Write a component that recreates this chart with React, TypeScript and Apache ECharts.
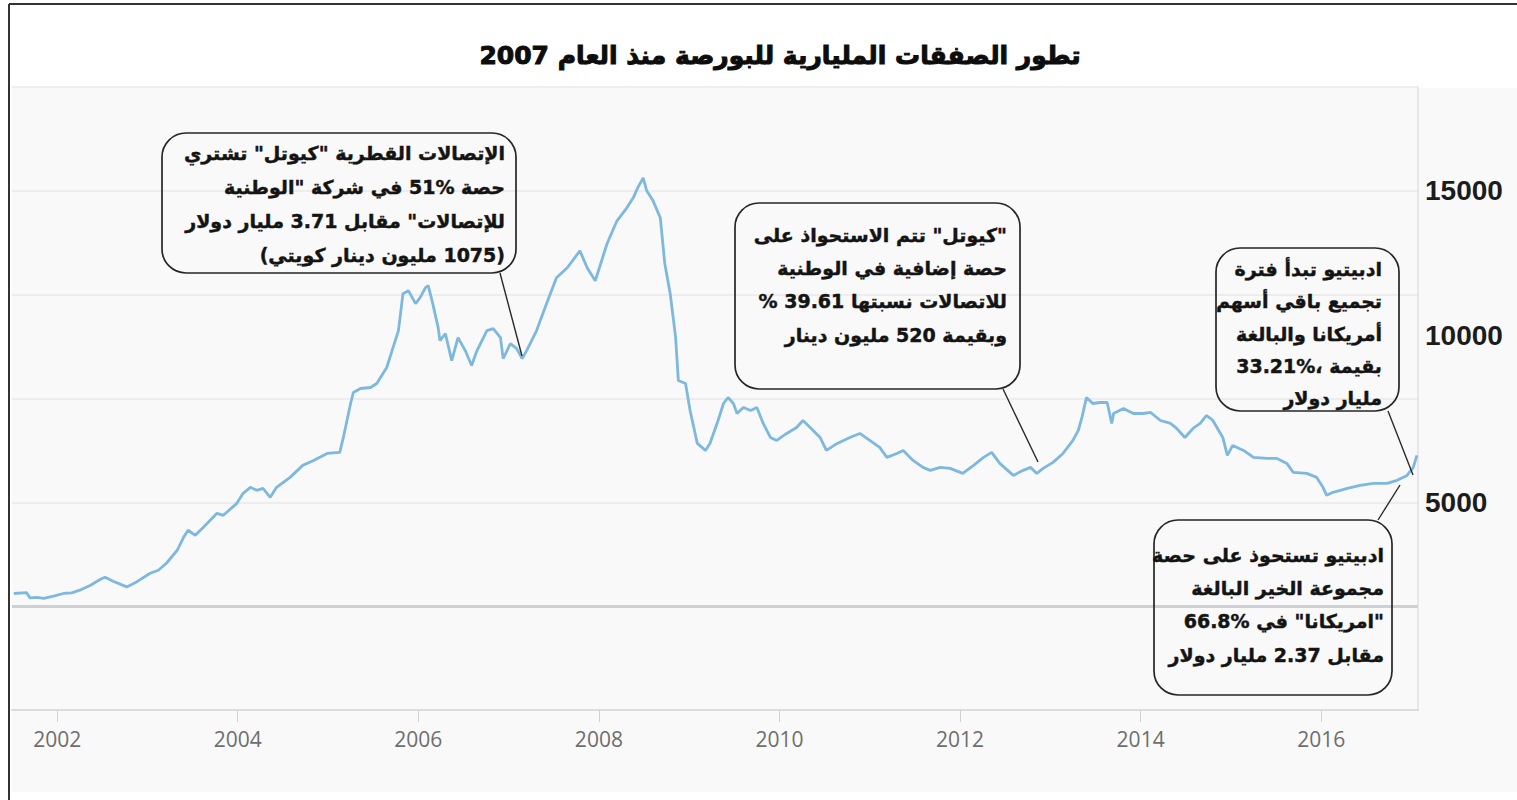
import React, { useEffect, useRef } from "react";
import * as echarts from "echarts";

// Kuwait bourse index (decimal year, index value)
const years: number[] = [
  2001.52, 2001.66, 2001.7, 2001.78, 2001.85, 2001.96, 2002.07, 2002.16, 2002.25, 2002.37,
  2002.48, 2002.53, 2002.62, 2002.77, 2002.88, 2003.03, 2003.12, 2003.21, 2003.33, 2003.4,
  2003.45, 2003.53, 2003.62, 2003.77, 2003.84, 2003.99, 2004.06, 2004.14, 2004.21, 2004.28,
  2004.36, 2004.43, 2004.58, 2004.72, 2004.84, 2004.99, 2005.13, 2005.17, 2005.25, 2005.28,
  2005.36, 2005.47, 2005.54, 2005.65, 2005.72, 2005.78, 2005.83, 2005.89, 2005.97, 2006.02,
  2006.08, 2006.11, 2006.16, 2006.22, 2006.24, 2006.3, 2006.37, 2006.44, 2006.52, 2006.59,
  2006.65, 2006.76, 2006.83, 2006.91, 2006.94, 2007.02, 2007.09, 2007.15, 2007.2, 2007.31,
  2007.42, 2007.53, 2007.65, 2007.79, 2007.87, 2007.96, 2008.09, 2008.2, 2008.31, 2008.38,
  2008.43, 2008.49, 2008.53, 2008.6, 2008.68, 2008.73, 2008.79, 2008.85, 2008.88, 2008.96,
  2009.01, 2009.09, 2009.18, 2009.23, 2009.32, 2009.38, 2009.43, 2009.49, 2009.53, 2009.6,
  2009.68, 2009.75, 2009.82, 2009.9, 2009.97, 2010.08, 2010.19, 2010.26, 2010.34, 2010.45,
  2010.52, 2010.64, 2010.78, 2010.89, 2011.0, 2011.11, 2011.19, 2011.3, 2011.37, 2011.48,
  2011.59, 2011.67, 2011.78, 2011.89, 2012.03, 2012.15, 2012.26, 2012.35, 2012.44, 2012.59,
  2012.7, 2012.78, 2012.85, 2012.92, 2013.03, 2013.14, 2013.25, 2013.31, 2013.35, 2013.4,
  2013.47, 2013.55, 2013.63, 2013.68, 2013.7, 2013.81, 2013.92, 2014.03, 2014.11, 2014.22,
  2014.33, 2014.4, 2014.49, 2014.58, 2014.66, 2014.73, 2014.8, 2014.91, 2014.96, 2015.02,
  2015.14, 2015.25, 2015.4, 2015.51, 2015.62, 2015.69, 2015.84, 2015.95, 2016.02, 2016.06,
  2016.13, 2016.29, 2016.43, 2016.58, 2016.73, 2016.84, 2016.95, 2017.02, 2017.06,
];
const indexValues: number[] = [
  2074, 2100, 1933, 1946, 1914, 1987, 2074, 2093, 2180, 2340,
  2532, 2596, 2468, 2285, 2446, 2724, 2821, 3045, 3462, 3878,
  4103, 3942, 4199, 4647, 4583, 4968, 5288, 5481, 5385, 5449,
  5160, 5481, 5801, 6186, 6346, 6570, 6602, 7083, 8173, 8525,
  8654, 8686, 8814, 9327, 9968, 10513, 11698, 11795, 11378, 11570,
  11891, 11955, 11378, 10609, 10192, 10416, 9551, 10288, 9872, 9391,
  9872, 10513, 10577, 10288, 9615, 10096, 9936, 9615, 9872, 10513,
  11378, 12211, 12532, 13077, 12532, 12115, 13301, 14038, 14455, 14775,
  15096, 15416, 15000, 14679, 14134, 12660, 11698, 10288, 8910, 8814,
  7949, 6891, 6667, 6891, 7628, 8173, 8365, 8173, 7852, 8045,
  7949, 8045, 7532, 7083, 6987, 7211, 7404, 7628, 7404, 7083,
  6667, 6891, 7083, 7211, 6987, 6763, 6442, 6570, 6667, 6346,
  6122, 6026, 6122, 6090, 5929, 6186, 6442, 6603, 6250, 5865,
  6026, 6122, 5929, 6090, 6282, 6570, 6987, 7308, 7724, 8365,
  8173, 8205, 8205, 7532, 7852, 8013, 7852, 7852, 7885, 7628,
  7532, 7372, 7083, 7372, 7532, 7788, 7628, 7083, 6506, 6827,
  6667, 6442, 6410, 6410, 6250, 5962, 5929, 5801, 5481, 5224,
  5321, 5449, 5545, 5609, 5609, 5705, 5865, 6122, 6506,
];

const xTickYears: number[] = [2002, 2004, 2006, 2008, 2010, 2012, 2014, 2016];
const yTickLabels: number[] = [5000, 10000, 15000];

const titleText = "تطور الصفقات المليارية للبورصة منذ العام 2007";

// percentages are kept left-to-right ("51%") inside the right-to-left lines
const ltr = (s: string) => "\u2066" + s + "\u2069";

const note1: string[] = [
  'الإتصالات القطرية "كيوتل" تشتري',
  "حصة " + ltr("51%") + ' في شركة "الوطنية',
  'للإتصالات" مقابل 3.71 مليار دولار',
  "(1075 مليون دينار كويتي)",
];
const note2: string[] = [
  '"كيوتل" تتم الاستحواذ على',
  "حصة إضافية في الوطنية",
  "للاتصالات نسبتها 39.61 %",
  "وبقيمة 520 مليون دينار",
];
const note3: string[] = [
  "ادبيتيو تبدأ فترة",
  "تجميع باقي أسهم",
  "أمريكانا والبالغة",
  "بقيمة ،" + ltr("33.21%"),
  "مليار دولار",
];
const note4: string[] = [
  "ادبيتيو تستحوذ على حصة",
  "مجموعة الخير البالغة",
  '"امريكانا" في ' + ltr("66.8%"),
  "مقابل 2.37 مليار دولار",
];

const rtl = (s: string) => "\u202B" + s + "\u202C";

const ARABIC_FONT = "'DejaVu Sans', 'Noto Sans', sans-serif";

function box(x: number, y: number, w: number, h: number) {
  return {
    type: "rect",
    silent: true,
    z: 20,
    shape: { x, y, width: w, height: h, r: 24 },
    style: { fill: "rgba(255,255,255,0)", stroke: "#262626", lineWidth: 1.7 },
  };
}

function pointer(x1: number, y1: number, x2: number, y2: number) {
  return {
    type: "line",
    silent: true,
    z: 20,
    shape: { x1, y1, x2, y2 },
    style: { stroke: "#2a2a2a", lineWidth: 1.4 },
  };
}

function noteText(lines: string[], right: number, top: number, lh: number, fs: number) {
  return {
    type: "text",
    silent: true,
    z: 21,
    x: right,
    y: top,
    style: {
      text: lines.map(rtl).join("\n"),
      fill: "#141414",
      stroke: "#141414",
      lineWidth: 0.45,
      fontFamily: ARABIC_FONT,
      fontWeight: "bold",
      fontSize: fs,
      lineHeight: lh,
      align: "right",
      textAlign: "right",
      verticalAlign: "top",
      textVerticalAlign: "top",
    },
  };
}

export default function App() {
  const ref = useRef<HTMLDivElement>(null);

  useEffect(() => {
    if (!ref.current) return;
    const chart = echarts.init(ref.current, null, { renderer: "svg" });
    const data = years.map((yr, i) => [yr, indexValues[i]]);
    const yLabelStyle = {
      fontFamily: "'Liberation Sans', Arial, sans-serif",
      fontWeight: "bold",
      fontSize: 28,
      color: "#1c1c1c",
    };

    const option: any = {
      animation: false,
      backgroundColor: "#ffffff",
      grid: { left: 12, right: 99, top: 87, bottom: 90, containLabel: false },
      xAxis: {
        type: "value",
        min: 2001.5,
        max: 2017.072,
        axisLine: { show: true, onZero: false, lineStyle: { color: "#dcdcdc", width: 2 } },
        axisTick: {
          show: true,
          customValues: xTickYears,
          length: 12,
          lineStyle: { color: "#d2d2d2", width: 1 },
        },
        axisLabel: {
          customValues: xTickYears,
          color: "#6e6e6e",
          fontFamily: "'Open Sans', sans-serif",
          fontSize: 21,
          margin: 18,
          formatter: (v: number) => String(Math.round(v)),
        },
        splitLine: { show: false },
      },
      yAxis: {
        type: "value",
        position: "right",
        min: -5000 / 3,
        max: 55000 / 3,
        interval: 10000 / 3,
        axisLine: { show: true, onZero: false, lineStyle: { color: "#e0e0e0", width: 1.5 } },
        axisTick: { show: false },
        axisLabel: {
          customValues: yTickLabels,
          margin: 7,
          align: "left",
          formatter: (v: number) => (Math.round(v) === 10000 ? "{up|10000}" : "{n|" + Math.round(v) + "}"),
          rich: {
            n: { ...yLabelStyle },
            up: { ...yLabelStyle, padding: [0, 0, 22, 0] },
          },
        },
        splitLine: { show: true, lineStyle: { color: "#e8e8e8", width: 1.5 } },
      },
      series: [
        {
          type: "line",
          data,
          showSymbol: false,
          symbol: "none",
          smooth: false,
          z: 5,
          lineStyle: { color: "#7db8df", width: 2.8 },
          markLine: {
            silent: true,
            symbol: "none",
            label: { show: false },
            lineStyle: { color: "#cdd1d4", width: 3, type: "solid" },
            data: [{ yAxis: 5000 / 3 }],
          },
        },
      ],
      graphic: [
        {
          type: "rect",
          silent: true,
          z: -10,
          shape: { x: 12, y: 88, width: 1505, height: 704 },
          style: { fill: "#f9f9f9" },
        },
        {
          type: "line",
          silent: true,
          z: 30,
          shape: { x1: 9, y1: 4, x2: 1517, y2: 4 },
          style: { stroke: "#333333", lineWidth: 2 },
        },
        {
          type: "line",
          silent: true,
          z: 30,
          shape: { x1: 9, y1: 4, x2: 9, y2: 800 },
          style: { stroke: "#333333", lineWidth: 2 },
        },
        {
          type: "text",
          silent: true,
          z: 30,
          x: 780,
          y: 55,
          style: {
            text: rtl(titleText),
            fill: "#0d0d0d",
            fontFamily: ARABIC_FONT,
            fontWeight: "bold",
            fontSize: 25,
            align: "center",
            textAlign: "center",
            verticalAlign: "middle",
            textVerticalAlign: "middle",
            stroke: "#0d0d0d",
            lineWidth: 1,
          },
        },
        box(162, 133, 354, 140),
        pointer(500, 273, 522, 356),
        noteText(note1, 505, 136, 34, 19),
        box(735, 203, 285, 186),
        pointer(1003, 389, 1038, 462),
        noteText(note2, 1007, 218, 33.3, 19),
        box(1216, 248, 183, 163),
        pointer(1388, 411, 1413, 475),
        noteText(note3, 1382, 253, 32.3, 19),
        box(1154, 520, 238, 175),
        pointer(1378, 520, 1400, 485),
        noteText(note4, 1384, 538, 33.3, 19),
      ],
    };

    chart.setOption(option);
    return () => chart.dispose();
  }, []);

  return (
    <div
      ref={ref}
      style={{ position: "absolute", left: 0, top: 0, width: "1517px", height: "800px" }}
    />
  );
}
